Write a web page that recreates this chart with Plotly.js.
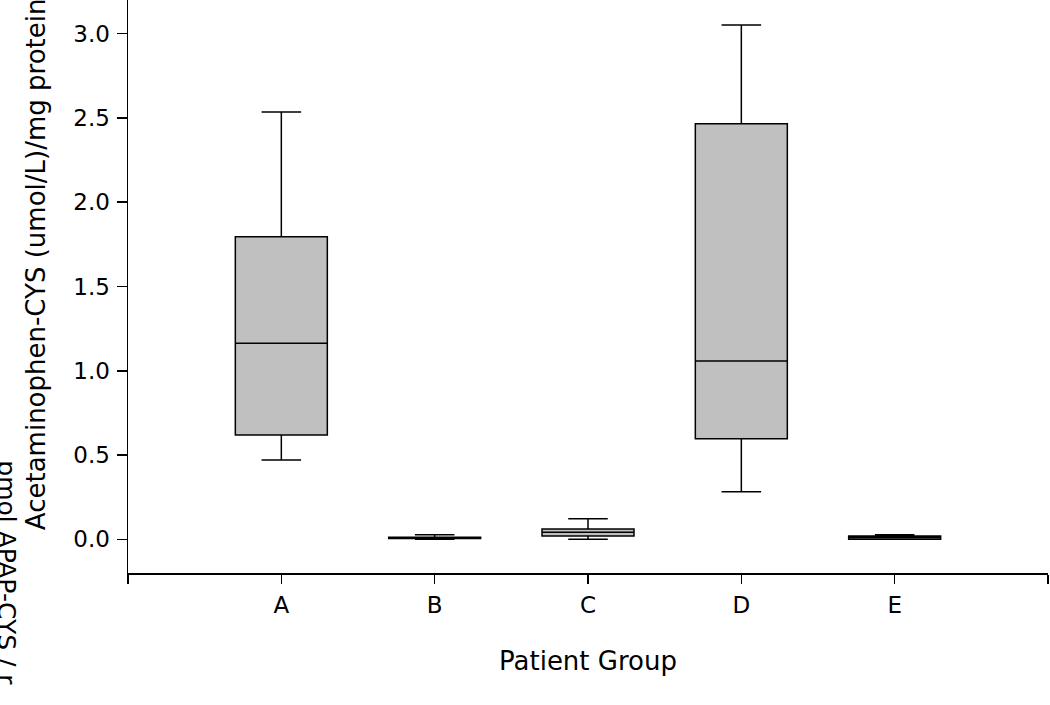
<!DOCTYPE html>
<html>
<head>
<meta charset="utf-8">
<script src="https://cdn.plot.ly/plotly-3.0.1.min.js"></script>
<style>
  html, body { margin: 0; padding: 0; background: #fff; }
  #chart { width: 1050px; height: 705px; }
</style>
</head>
<body>
<div id="chart"></div>
<script>
// Data
const categories = ['A', 'B', 'C', 'D', 'E'];
const upperWhisker = [2.535, 0.027, 0.122, 3.052, 0.027];
const q3Values     = [1.795, 0.012, 0.061, 2.466, 0.020];
const medians      = [1.163, 0.008, 0.042, 1.058, 0.010];
const q1Values     = [0.619, 0.005, 0.020, 0.597, 0.000];
const lowerWhisker = [0.470, 0.000, 0.000, 0.282, 0.000];
const yTickValues  = [0, 0.5, 1.0, 1.5, 2.0, 2.5, 3.0];

const xTitleText = 'Patient Group';
const yTitleText = 'Acetaminophen-CYS (umol/L)/mg protein';
const sideTitleText = 'pmol APAP-CYS / r';

const positions = categories.map((c, i) => i + 1);
const xTickVals = [0].concat(positions, [categories.length + 1]);
const xTickText = [''].concat(categories, ['']);

const FONT = 'DejaVu Sans, Arial, sans-serif';

const trace = {
  type: 'box',
  x: positions,
  q1: q1Values,
  median: medians,
  q3: q3Values,
  lowerfence: lowerWhisker,
  upperfence: upperWhisker,
  width: 0.6,
  whiskerwidth: 0.43,
  fillcolor: '#c0c0c0',
  line: { color: '#000000', width: 1.5 },
  boxpoints: false,
  hoverinfo: 'skip',
  showlegend: false
};

const layout = {
  width: 1050,
  height: 705,
  margin: { l: 128, r: 2, t: 0, b: 132, pad: 0 },
  paper_bgcolor: '#ffffff',
  plot_bgcolor: '#ffffff',
  font: { family: FONT, color: '#000000', size: 23 },
  showlegend: false,
  xaxis: {
    range: [0, categories.length + 1],
    tickmode: 'array',
    tickvals: xTickVals,
    ticktext: xTickText,
    ticks: 'outside',
    ticklen: 9,
    tickwidth: 1.5,
    tickcolor: '#000000',
    showline: true,
    linecolor: '#000000',
    linewidth: 1.5,
    showgrid: false,
    zeroline: false,
    ticklabelstandoff: 2,
    tickfont: { family: FONT, size: 23, color: '#000000' },
    title: { text: xTitleText, font: { family: FONT, size: 26, color: '#000000' }, standoff: 34 }
  },
  yaxis: {
    range: [-0.2, 3.2],
    tickmode: 'array',
    tickvals: yTickValues,
    tickformat: '.1f',
    ticks: 'outside',
    ticklen: 10,
    tickwidth: 1.5,
    tickcolor: '#000000',
    showline: true,
    linecolor: '#000000',
    linewidth: 1.5,
    showgrid: false,
    zeroline: false,
    ticklabelstandoff: 2,
    tickfont: { family: FONT, size: 23, color: '#000000' }
  },
  annotations: [
    {
      text: yTitleText,
      xref: 'paper', yref: 'paper',
      x: -0.100, y: 0.539,
      xanchor: 'center', yanchor: 'middle',
      textangle: -90,
      showarrow: false,
      font: { family: FONT, size: 26, color: '#000000' }
    },
    {
      text: sideTitleText,
      xref: 'paper', yref: 'paper',
      x: -0.133, y: 0.2,
      xanchor: 'center', yanchor: 'top',
      textangle: 90,
      showarrow: false,
      font: { family: FONT, size: 25, color: '#000000' }
    }
  ]
};

Plotly.newPlot('chart', [trace], layout, { staticPlot: true, displayModeBar: false });
</script>
</body>
</html>
